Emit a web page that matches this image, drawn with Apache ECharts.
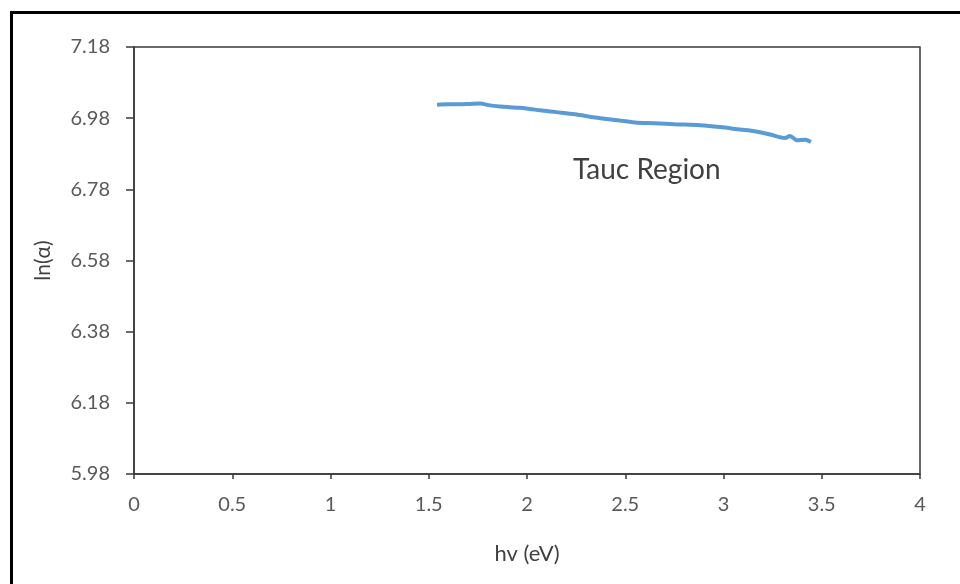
<!DOCTYPE html>
<html>
<head>
<meta charset="utf-8">
<script src="https://cdn.jsdelivr.net/npm/echarts@6/dist/echarts.min.js"></script>
<style>
  html, body { margin: 0; padding: 0; background: #fff; }
  #chart { width: 960px; height: 584px; }
</style>
</head>
<body>
<div id="chart"></div>
<script>
// Photon energy (eV) and ln(alpha) along the absorption curve
const hvValues = [1.542, 1.60, 1.659, 1.71, 1.761, 1.812, 1.863, 1.91, 1.964, 2.015, 2.066, 2.148,
  2.244, 2.346, 2.448, 2.550, 2.651, 2.753, 2.880, 2.982, 3.084, 3.160, 3.237, 3.313,
  3.338, 3.374, 3.415, 3.445];
const lnAlpha = [7.018, 7.019, 7.019, 7.020, 7.021, 7.016, 7.013, 7.011, 7.009, 7.006, 7.002, 6.997,
  6.991, 6.982, 6.975, 6.968, 6.966, 6.963, 6.960, 6.955, 6.948, 6.943, 6.934, 6.924,
  6.930, 6.918, 6.919, 6.913];

const xTicks = { min: 0, max: 4, step: 0.5 };
const yTicks = { min: 5.98, max: 7.18, step: 0.2 };
const yTickLabels = ['5.98', '6.18', '6.38', '6.58', '6.78', '6.98', '7.18'];

const annotation = 'Tauc Region';
const xTitle = 'hv (eV)';
const yTitle = 'ln(\u03b1)';

const points = hvValues.map((h, i) => [h, lnAlpha[i]]);

const font = 'Lato, "Open Sans", sans-serif';
const chart = echarts.init(document.getElementById('chart'), null, { renderer: 'canvas' });

chart.setOption({
  animation: false,
  backgroundColor: '#ffffff',
  grid: {
    left: 134, right: 40, top: 47, bottom: 110,
    show: true, borderColor: '#3a3a3a', borderWidth: 1.5, backgroundColor: 'transparent'
  },
  xAxis: {
    type: 'value',
    min: xTicks.min, max: xTicks.max, interval: xTicks.step,
    name: xTitle, nameLocation: 'middle', nameGap: 69,
    nameTextStyle: { fontFamily: font, fontSize: 22, color: '#404040' },
    axisLine: { show: true, onZero: false, lineStyle: { color: '#3a3a3a', width: 1.5 } },
    axisTick: { show: true, inside: false, length: 5, lineStyle: { color: '#3a3a3a', width: 1.5 } },
    axisLabel: { fontFamily: font, fontSize: 20, color: '#595959', margin: 21 },
    splitLine: { show: false }
  },
  yAxis: {
    type: 'value',
    min: yTicks.min, max: yTicks.max, interval: yTicks.step,
    name: yTitle, nameLocation: 'middle', nameGap: 80, nameRotate: 90,
    nameTextStyle: { fontFamily: font, fontSize: 21, color: '#404040' },
    axisLine: { show: true, lineStyle: { color: '#3a3a3a', width: 1.5 } },
    axisTick: { show: true, inside: false, length: 8, lineStyle: { color: '#3a3a3a', width: 1.5 } },
    axisLabel: {
      fontFamily: font, fontSize: 20, color: '#595959', margin: 24,
      formatter: (v) => {
        const idx = Math.round((v - yTicks.min) / yTicks.step);
        return yTickLabels[idx] !== undefined ? yTickLabels[idx] : v.toFixed(2);
      }
    },
    splitLine: { show: false }
  },
  series: [{
    type: 'line',
    data: points,
    showSymbol: false,
    smooth: 0.3,
    lineStyle: { color: '#5B9BD5', width: 4 },
    itemStyle: { color: '#5B9BD5' }
  }],
  graphic: [
    {
      type: 'rect', silent: true, z: 100,
      shape: { x: 11.5, y: 12.5, width: 1000, height: 1000 },
      style: { fill: 'none', stroke: '#000000', lineWidth: 3 }
    },
    {
      type: 'text', silent: true, z: 100,
      left: 573, top: 156,
      style: { text: annotation, fontFamily: font, fontSize: 28, fill: '#404040' }
    }
  ]
});
</script>
</body>
</html>
